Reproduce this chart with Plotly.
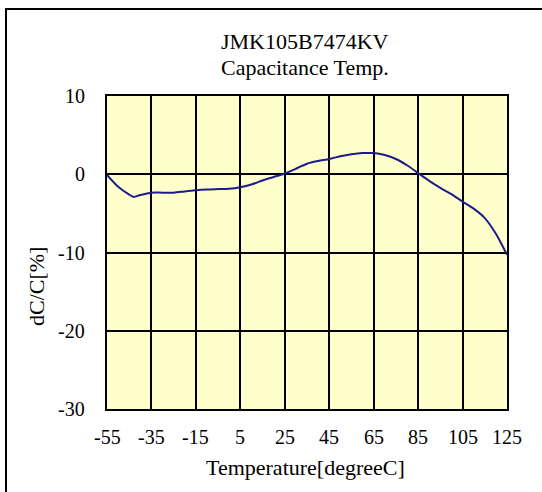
import plotly.graph_objects as go

temps = [-55, -50, -45, -43, -40, -35, -30, -25, -20, -15, -10, -5, 0, 5, 10, 15, 20, 25,
         30, 35, 40, 45, 50, 55, 60, 65, 70, 75, 80, 85, 90, 95, 100, 105, 110, 115, 120, 125]
dcc = [-0.1, -1.6, -2.6, -2.9, -2.65, -2.35, -2.35, -2.35, -2.2, -2.05, -1.95, -1.9, -1.85,
       -1.65, -1.3, -0.8, -0.35, 0.1, 0.7, 1.35, 1.7, 1.95, 2.3, 2.55, 2.7, 2.7, 2.45, 1.95,
       1.15, 0.15, -0.85, -1.75, -2.55, -3.5, -4.4, -5.6, -7.6, -10.3]
x_ticks = [-55, -35, -15, 5, 25, 45, 65, 85, 105, 125]
y_ticks = [-30, -20, -10, 0, 10]
title_lines = ["JMK105B7474KV", "Capacitance Temp."]
x_title = "Temperature[degreeC]"
y_title = "dC/C[%]"

FONT = "Liberation Serif"
W, H = 542, 492
L, R, T, B = 107, 35, 96, 83
PW, PH = W - L - R, H - T - B

def px(x):
    return (x - L) / PW

def py(y):
    return (H - B - y) / PH

fig = go.Figure()
fig.add_trace(go.Scatter(x=temps, y=dcc, mode="lines",
                         line=dict(color="#1c1c8c", width=2, shape="spline", smoothing=0.8),
                         showlegend=False, hoverinfo="skip"))

fig.update_layout(
    width=W, height=H,
    margin=dict(l=L, r=R, t=T, b=B),
    paper_bgcolor="white",
    plot_bgcolor="#FFFFCC",
    font=dict(family=FONT, size=20, color="black"),
    xaxis=dict(range=[-55, 125], tickvals=x_ticks,
               showgrid=True, gridcolor="black", gridwidth=2, zeroline=False,
               showline=True, linecolor="black", linewidth=2, mirror=True,
               ticks="", showticklabels=False),
    yaxis=dict(range=[-30, 10], tickvals=y_ticks,
               showgrid=True, gridcolor="black", gridwidth=2, zeroline=False,
               showline=True, linecolor="black", linewidth=2, mirror=True,
               ticks="", showticklabels=False),
)

ann = []
for v in x_ticks:
    ann.append(dict(x=v, xref="x", y=py(437), yref="paper", text=str(v), showarrow=False,
                    xanchor="center", yanchor="middle", font=dict(size=20)))
for v in y_ticks:
    ann.append(dict(x=px(87), xref="paper", y=v, yref="y", text=str(v), showarrow=False,
                    xanchor="right", yanchor="middle", font=dict(size=20)))
ann.append(dict(x=px(305), xref="paper", y=py(41), yref="paper", text=title_lines[0], showarrow=False,
                xanchor="center", yanchor="middle", font=dict(size=22)))
ann.append(dict(x=px(305), xref="paper", y=py(68), yref="paper", text=title_lines[1], showarrow=False,
                xanchor="center", yanchor="middle", font=dict(size=22)))
ann.append(dict(x=px(305), xref="paper", y=py(468), yref="paper", text=x_title, showarrow=False,
                xanchor="center", yanchor="middle", font=dict(size=22)))
ann.append(dict(x=px(36), xref="paper", y=py(287), yref="paper", text=y_title, showarrow=False,
                textangle=-90, xanchor="center", yanchor="middle", font=dict(size=22)))
fig.update_layout(annotations=ann)

fig.add_shape(type="rect", xref="paper", yref="paper",
              x0=px(6), x1=px(560), y0=py(520), y1=py(9),
              line=dict(color="black", width=2), fillcolor="rgba(0,0,0,0)", layer="below")

fig.write_html("out.html", config={"displayModeBar": False, "staticPlot": True},
               post_script="document.body.style.margin='0';document.body.style.overflow='hidden';")
